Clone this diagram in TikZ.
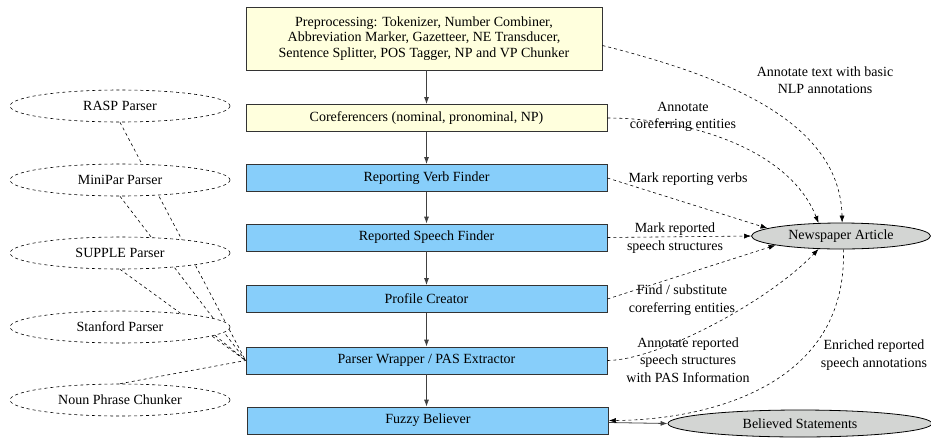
\documentclass[tikz,border=0pt]{standalone}
\usepackage{fontspec}
\setmainfont{Liberation Serif}
\usetikzlibrary{shapes.geometric}
\usetikzlibrary{backgrounds}
\usetikzlibrary{arrows.meta}

\definecolor{preyellow}{HTML}{FFFFDD}
\definecolor{modblue}{HTML}{87CEFA}
\definecolor{docgray}{HTML}{D3D5D3}

\tikzset{
    >={Latex[length=7pt,width=5pt]},
    every node/.style={font=\fontsize{14}{15.5}\selectfont},
    prebox/.style={draw=black!80, fill=preyellow, line width=0.8pt, minimum width=361pt, minimum height=27pt, inner sep=0pt, align=center},
    modbox/.style={prebox, fill=modblue},
    parser/.style={ellipse, draw, dashed, fill=white, line width=0.6pt, minimum width=220pt, minimum height=32pt, inner sep=0pt},
    doc/.style={ellipse, draw, fill=docgray, line width=0.8pt, minimum height=27pt, inner sep=0pt},
    flow/.style={->, black!75, line width=0.8pt},
    annot/.style={->, dashed, line width=0.6pt},
    link/.style={dashed, line width=0.6pt},
    lbl/.style={align=center, font=\fontsize{14}{17.5}\selectfont}
}

\begin{document}
\begin{tikzpicture}[x=1pt, y=-1pt]
    \useasboundingbox (0,0) rectangle (931,437);

    % pipeline
    \node[prebox, minimum width=356pt, minimum height=63pt] (pre) at (424,38.5)
        {Preprocessing: Tokenizer, Number Combiner,\\Abbreviation Marker, Gazetteer, NE Transducer,\\Sentence Splitter, POS Tagger, NP and VP Chunker};
    \node[prebox] (coref) at (426.5,118) {Coreferencers (nominal, pronominal, NP)};
    \node[modbox] (verb) at (426.5,178) {Reporting Verb Finder};
    \node[modbox] (speech) at (426.5,237.5) {Reported Speech Finder};
    \node[modbox] (profile) at (426.5,299) {Profile Creator};
    \node[modbox] (wrapper) at (426.5,360.5) {Parser Wrapper / PAS Extractor};
    \node[modbox] (fuzzy) at (428,420.5) {Fuzzy Believer};

    % parsers
    \node[parser] (rasp) at (120,106) {RASP Parser};
    \node[parser] (minipar) at (120,180) {MiniPar Parser};
    \node[parser] (supple) at (120,253) {SUPPLE Parser};
    \node[parser] (stanford) at (120,327) {Stanford Parser};
    \node[parser] (npchunk) at (120,400) {Noun Phrase Chunker};

    % documents
    \node[doc, minimum width=179pt, minimum height=26pt] (news) at (841,236) {Newspaper Article};
    \node[doc, minimum width=264pt] (believed) at (800,423.5) {Believed Statements};

    \foreach \a/\b in {pre/coref, coref/verb, verb/speech, speech/profile, profile/wrapper, wrapper/fuzzy}
        \draw[flow] (\a.south -| coref) -- (\b.north -| coref);
    \draw[flow] ([yshift=-2pt]fuzzy.east) -- (believed.west);

    \begin{scope}[on background layer]
        \draw[link] (rasp.south) -- (wrapper.west);
        \draw[link] (minipar.south) -- (wrapper.west);
        \draw[link] (supple.south) -- (wrapper.west);
        \draw[link] (stanford.-5) -- (wrapper.west);
        \draw[link] (npchunk.north) -- (wrapper.west);
    \end{scope}

    % annotations
    \draw[annot] ([yshift=-7pt]pre.east) .. controls (720,75) and (840,120) .. (news.85);
    \draw[annot] (coref.east) .. controls (690,118) and (790,150) .. (news.150);
    \draw[annot] (verb.east) -- (news.174);
    \draw[annot] (speech.east) -- (news.west);
    \draw[annot] (profile.east) -- (news.188);
    \draw[annot] (wrapper.east) .. controls (660,360) and (770,300) .. (news.210);
    \draw[annot] (news.-80) .. controls (848,390) and (700,420) .. (fuzzy.east);

    \node[lbl] (lblbasic) at (825,80) {Annotate text with basic\\NLP annotations};
    \node[lbl] (lblcoref) at (683,117) {Annotate\\coreferring entities};
    \node[lbl] (lblverb) at (688,179) {Mark reporting verbs};
    \node[lbl] (lblspeech) at (675,238) {Mark reported\\speech structures};
    \node[lbl] (lblprofile) at (682,300) {Find / substitute\\coreferring entities};
    \node[lbl] (lblpas) at (688,360) {Annotate reported\\speech structures\\with PAS Information};
    \node[lbl] (lblenriched) at (874,355) {Enriched reported\\speech annotations};
\end{tikzpicture}
\end{document}
